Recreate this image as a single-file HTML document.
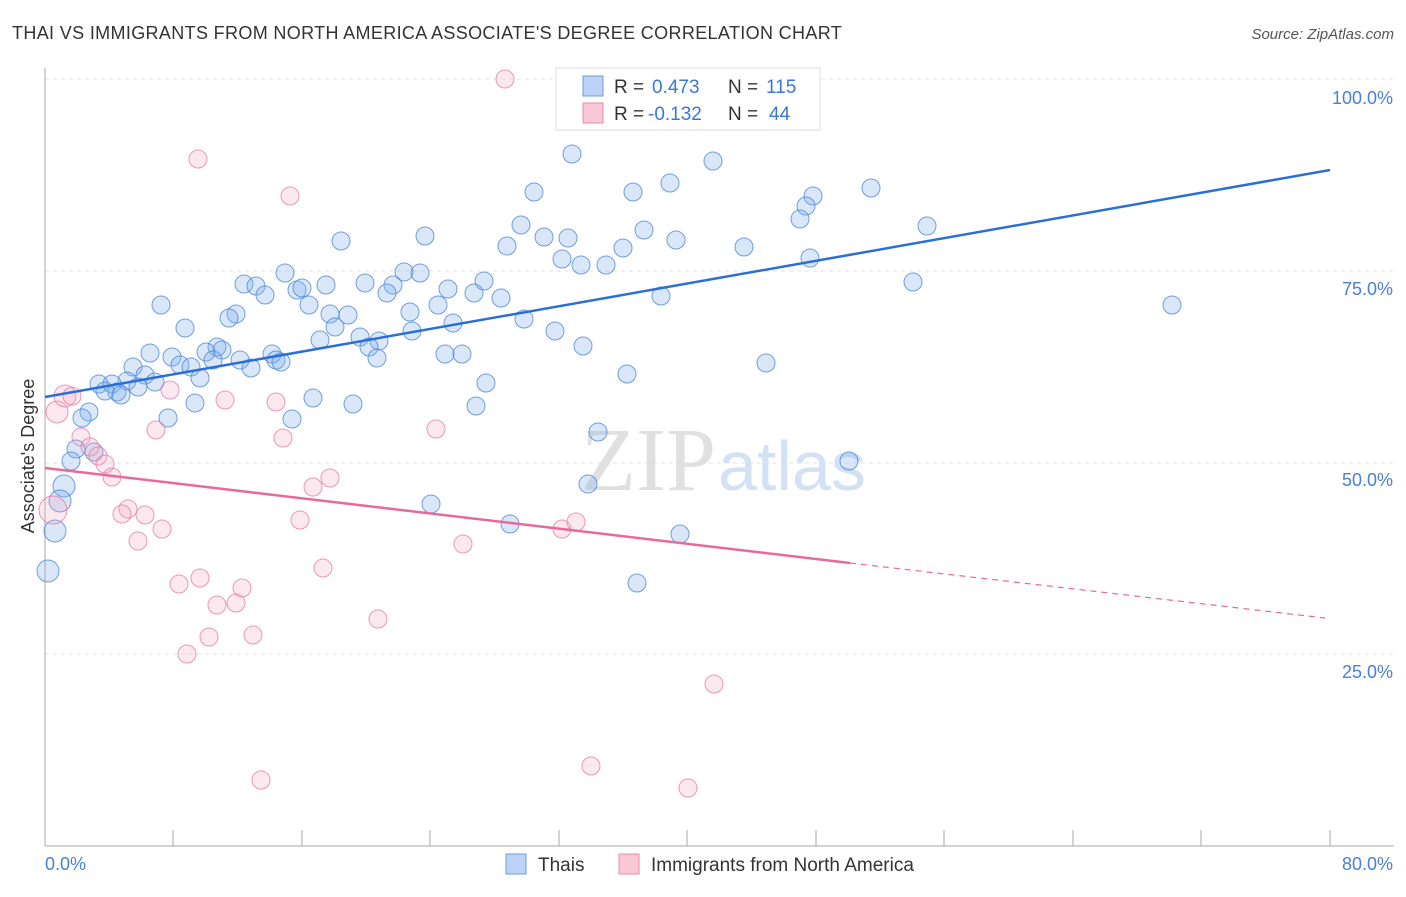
<!DOCTYPE html><html><head><meta charset="utf-8"><style>body{margin:0;background:#fff;font-family:"Liberation Sans",sans-serif}</style></head><body>
<svg width="1406" height="892" xmlns="http://www.w3.org/2000/svg" font-family="Liberation Sans, sans-serif">
<text x="12" y="39" font-size="18" fill="#333" letter-spacing="0.35">THAI VS IMMIGRANTS FROM NORTH AMERICA ASSOCIATE'S DEGREE CORRELATION CHART</text>
<text x="1394" y="39" font-size="15" fill="#555" font-style="italic" text-anchor="end">Source: ZipAtlas.com</text>
<g stroke="#e2e2e2" stroke-dasharray="4,4"><line x1="45" y1="79" x2="1394" y2="79"/><line x1="45" y1="271" x2="1394" y2="271"/><line x1="45" y1="463" x2="1394" y2="463"/><line x1="45" y1="654" x2="1394" y2="654"/></g>
<line x1="45" y1="68" x2="45" y2="846" stroke="#aaa"/>
<line x1="45" y1="846" x2="1394" y2="846" stroke="#aaa"/>
<g stroke="#aaa"><line x1="173" y1="830" x2="173" y2="846"/><line x1="302" y1="830" x2="302" y2="846"/><line x1="430" y1="830" x2="430" y2="846"/><line x1="559" y1="830" x2="559" y2="846"/><line x1="687" y1="830" x2="687" y2="846"/><line x1="816" y1="830" x2="816" y2="846"/><line x1="944" y1="830" x2="944" y2="846"/><line x1="1073" y1="830" x2="1073" y2="846"/><line x1="1201" y1="830" x2="1201" y2="846"/><line x1="1330" y1="830" x2="1330" y2="846"/></g>
<g font-size="18" fill="#4a7fd6" text-anchor="end"><text x="1393" y="104">100.0%</text><text x="1393" y="295">75.0%</text><text x="1393" y="486">50.0%</text><text x="1393" y="678">25.0%</text><text x="1393" y="870">80.0%</text></g>
<text x="45" y="870" font-size="18" fill="#4a7fd6">0.0%</text>
<text x="34" y="456" font-size="18" fill="#333" text-anchor="middle" transform="rotate(-90 34 456)">Associate's Degree</text>
<text x="716" y="490" font-size="90" fill="#e0e0e0" font-family="Liberation Serif, serif" text-anchor="end">ZIP</text>
<text x="718" y="490" font-size="70" fill="#d3e1f5">atlas</text>
<g fill="rgba(130,175,235,0.3)" stroke="rgba(70,130,215,0.75)" stroke-width="1" id="b"></g>
<g fill="rgba(245,165,190,0.25)" stroke="rgba(228,120,160,0.75)" stroke-width="1" id="p"></g>
<line x1="45" y1="397" x2="1330" y2="170" stroke="#2a6fd6" stroke-width="2.5"/>
<line x1="45" y1="468" x2="850" y2="563" stroke="#e8699a" stroke-width="2.5"/>
<line x1="850" y1="563" x2="1325" y2="618" stroke="#e8699a" stroke-width="1.2" stroke-dasharray="6,5"/>
<rect x="556" y="68" width="264" height="62" fill="#fff" stroke="#ddd"/>
<rect x="583" y="76" width="20" height="20" fill="#bcd3f5" stroke="#6b9be0"/>
<rect x="583" y="103" width="20" height="20" fill="#f9c8d6" stroke="#e98aa8"/>
<g font-size="19"><text x="614" y="93" fill="#333">R = </text><text x="652" y="93" fill="#3a77d8">0.473</text><text x="728" y="93" fill="#333">N = </text><text x="766" y="93" fill="#3a77d8">115</text>
<text x="614" y="120" fill="#333">R = </text><text x="648" y="120" fill="#3a77d8">-0.132</text><text x="728" y="120" fill="#333">N = </text><text x="769" y="120" fill="#3a77d8">44</text></g>
<rect x="506" y="854" width="20" height="20" fill="#bcd3f5" stroke="#6b9be0"/><text x="538" y="871" font-size="19" fill="#333">Thais</text>
<rect x="619" y="854" width="20" height="20" fill="#f9c8d6" stroke="#e98aa8"/><text x="651" y="871" font-size="19" fill="#333">Immigrants from North America</text>
</svg>
<script>
var B=[572,154,713,161,534,192,633,192,670,183,871,188,813,196,806,206,800,219,927,226,521,225,425,236,341,241,507,246,544,237,568,238,644,230,676,240,623,248,744,247,562,259,581,265,606,265,810,258,285,273,244,284,256,286,265,295,297,290,302,288,326,285,365,283,404,272,420,273,393,285,387,293,448,289,484,281,474,293,501,298,438,305,661,296,913,282,1172,305,161,305,309,305,236,314,229,318,330,314,348,315,410,312,453,323,524,319,185,328,335,327,320,340,360,337,379,341,369,347,412,331,555,331,583,346,150,353,172,357,217,347,222,350,206,352,213,360,240,360,251,368,272,354,276,360,281,362,180,365,191,367,133,367,145,375,200,378,155,382,127,381,99,384,112,384,117,392,105,391,121,395,138,387,377,358,445,354,462,354,766,363,627,374,486,383,313,398,353,404,195,403,168,418,292,419,476,406,89,412,82,418,598,432,76,449,94,452,71,461,849,461,64,486,588,484,431,504,60,501,510,524,680,534,55,531,48,571,637,583];
var P=[505,79,578,79,198,159,290,196,57,412,65,396,72,396,170,390,225,400,276,402,81,437,90,447,98,456,105,464,112,477,156,430,283,438,436,429,330,478,313,487,128,509,122,514,145,515,162,529,138,541,300,520,463,544,562,529,576,522,53,510,323,568,200,578,179,584,242,588,236,603,217,605,209,637,253,635,187,654,378,619,714,684,261,780,591,766,688,788];
function d(a,id){var g=document.getElementById(id),s='';for(var i=0;i<a.length;i+=2){var r=(a[i]<70)?11:9;if(id=='p'&&a[i]==53)r=14;s+='<circle cx="'+a[i]+'" cy="'+a[i+1]+'" r="'+r+'"/>';}g.innerHTML=s;}
d(B,'b');d(P,'p');
</script>
</body></html>
